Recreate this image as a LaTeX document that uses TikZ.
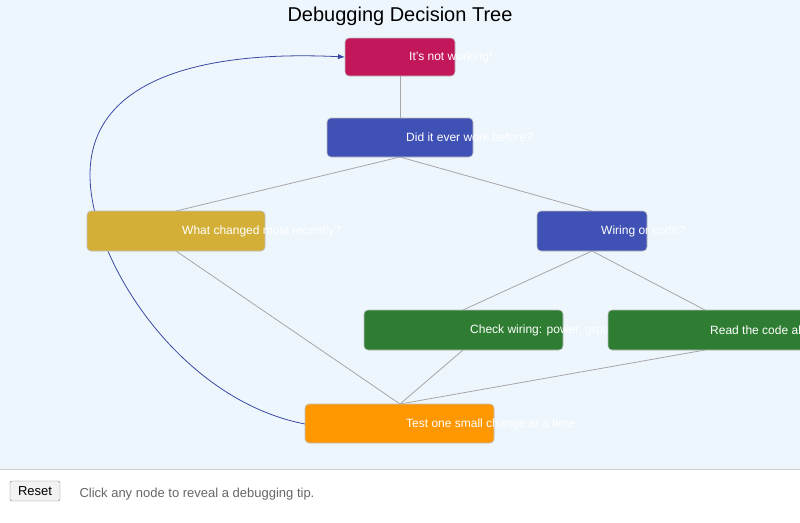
\documentclass[tikz,border=0pt]{standalone}
\usepackage{fontspec}
\setmainfont{Liberation Sans}
\usetikzlibrary{positioning, arrows.meta}
\definecolor{skybg}{HTML}{EEF6FD}
\definecolor{rootred}{HTML}{C2185B}
\definecolor{askblue}{HTML}{3F51B5}
\definecolor{gold}{HTML}{D4AF37}
\definecolor{fixgreen}{HTML}{2E7D32}
\definecolor{tryorange}{HTML}{FF9800}
\tikzset{
    card/.style={draw=black!25, rounded corners=4pt, line width=0.6pt},
    tip/.style={text=white, font=\fontsize{12}{14}\selectfont, anchor=west, inner sep=0pt},
    link/.style={draw=black!35, line width=0.8pt},
}
\begin{document}
\begin{tikzpicture}[x=1pt, y=-1pt]
        \useasboundingbox (0,0) rectangle (800,522);
        \fill[skybg] (0,0) rectangle (800,469);
        \draw[black!20] (0,469) -- (800,469);
        \node[font=\fontsize{20}{22}\selectfont] (title) at (400,16) {Debugging Decision Tree};
        % boxes
        \coordinate (root) at (409,57);
        \coordinate (ever) at (406,137.5);
        % links
        \draw[link] (400,76) -- (400,118);
        \draw[link] (400,157) -- (176,211);
        \draw[link] (400,157) -- (592,211);
        \draw[link] (176,251) -- (400,404);
        \draw[link] (592,251) -- (463,310);
        \draw[link] (592,251) -- (705,310);
        \draw[link] (463,350) -- (400,404);
        \draw[link] (705,350) -- (400,404);
        \draw[askblue!90!black, line width=0.8pt, -{Latex[length=7pt]}] (305,424) .. controls (180,400) and (90,260) .. (90,175) .. controls (90,80) and (200,50) .. (345,57);
        % nodes
        \filldraw[card, fill=rootred] (345,38) rectangle (455,76);
        \node[tip] (rootl) at (root) {It's not working!};
        \filldraw[card, fill=askblue] (327,118) rectangle (473,157);
        \node[tip] (everl) at (ever) {Did it ever work before?};
        \filldraw[card, fill=gold] (87,211) rectangle (265,251);
        \node[tip] (whatl) at (182,231) {What changed most recently?};
        \filldraw[card, fill=askblue] (537,211) rectangle (647,251);
        \node[tip] (wirel) at (601,231) {Wiring or code?};
        \filldraw[card, fill=fixgreen] (364,310) rectangle (563,350);
        \node[tip] (chkl) at (470,330) {Check wiring: power, ground, pins};
        \filldraw[card, fill=fixgreen] (608,310) rectangle (805,350);
        \node[tip] (readl) at (710,330) {Read the code aloud};
        \filldraw[card, fill=tryorange] (305,404) rectangle (494,443);
        \node[tip] (testl) at (406,424) {Test one small change at a time};
        % footer
        \node[draw=black!50, fill=black!5, rounded corners=2pt, font=\fontsize{13}{15}\selectfont, minimum width=50pt, minimum height=20pt, inner sep=2pt] (reset) at (35,491) {Reset};
        \node[anchor=west, text=black!60, font=\fontsize{13}{15}\selectfont] (help) at (76,494) {Click any node to reveal a debugging tip.};
    \end{tikzpicture}
\end{document}
